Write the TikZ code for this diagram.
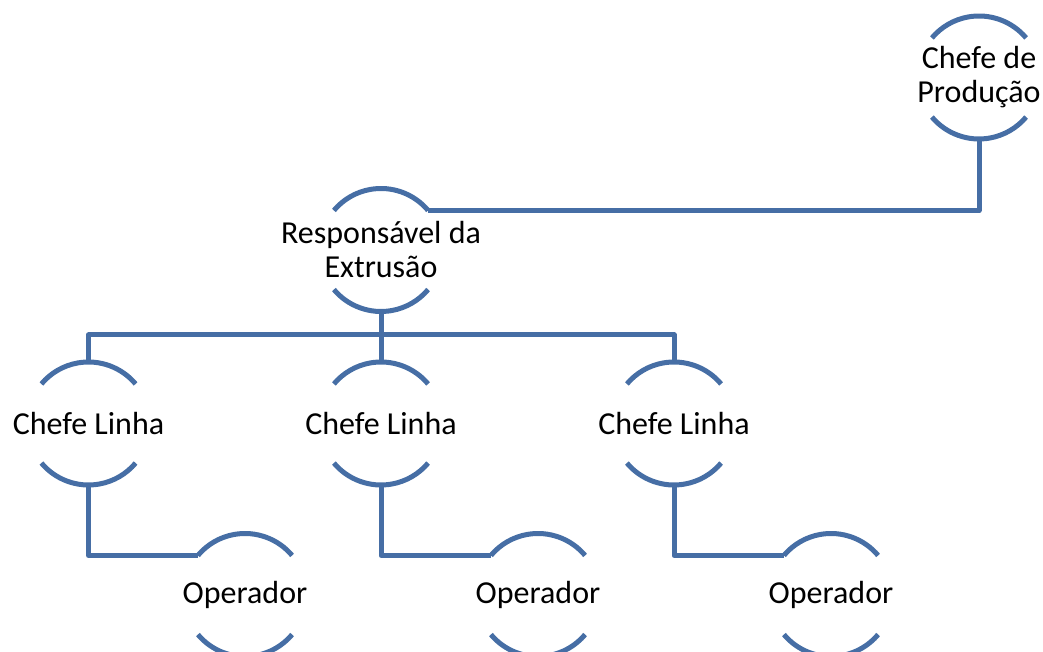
\documentclass[tikz,border=0pt]{standalone}
\usepackage{fontspec}
\setmainfont{Carlito}
\definecolor{lnblue}{RGB}{70,110,165}
\begin{document}
\begin{tikzpicture}[x=1pt,y=1pt,
  bub/.style={circle,minimum size=123pt,inner sep=0pt,outer sep=0pt},
  txt/.style={align=center,font=\fontsize{32}{34}\selectfont,inner sep=0pt},
  ln/.style={draw=lnblue,line width=5pt,line join=round}]
\useasboundingbox (0,0) rectangle (1043,652);
\node[bub] (P) at (979,574.5) {};
\node[bub] (R) at (381,402) {};
\node[bub] (L1) at (88.5,228.5) {};
\node[bub] (L2) at (381,228.5) {};
\node[bub] (L3) at (674,228.5) {};
\node[bub] (O1) at (245,57) {};
\node[bub] (O2) at (538,57) {};
\node[bub] (O3) at (831,57) {};
\node[txt] (tP) at (P) {Chefe de\\Produção};
\node[txt] (tR) at (R) {Responsável da\\Extrusão};
\foreach \n in {L1,L2,L3}{\node[txt] (t\n) at (\n) {Chefe Linha};}
\foreach \n in {O1,O2,O3}{\node[txt] (t\n) at (\n) {Operador};}
\foreach \n in {P,R,L1,L2,L3,O1,O2,O3}{
  \draw[ln] (\n.40) arc[start angle=40,end angle=140,radius=61.5];
  \draw[ln] (\n.220) arc[start angle=220,end angle=320,radius=61.5];
}
\coordinate (bar) at (381,317);
\draw[ln] (P.south) |- (R.40);
\draw[ln] (R.south) -- (bar);
\draw[ln] (L1.north) |- (bar) -| (L3.north);
\draw[ln] (bar) -- (L2.north);
\draw[ln] (L1.south) |- (O1.140);
\draw[ln] (L2.south) |- (O2.140);
\draw[ln] (L3.south) |- (O3.140);
\end{tikzpicture}
\end{document}
